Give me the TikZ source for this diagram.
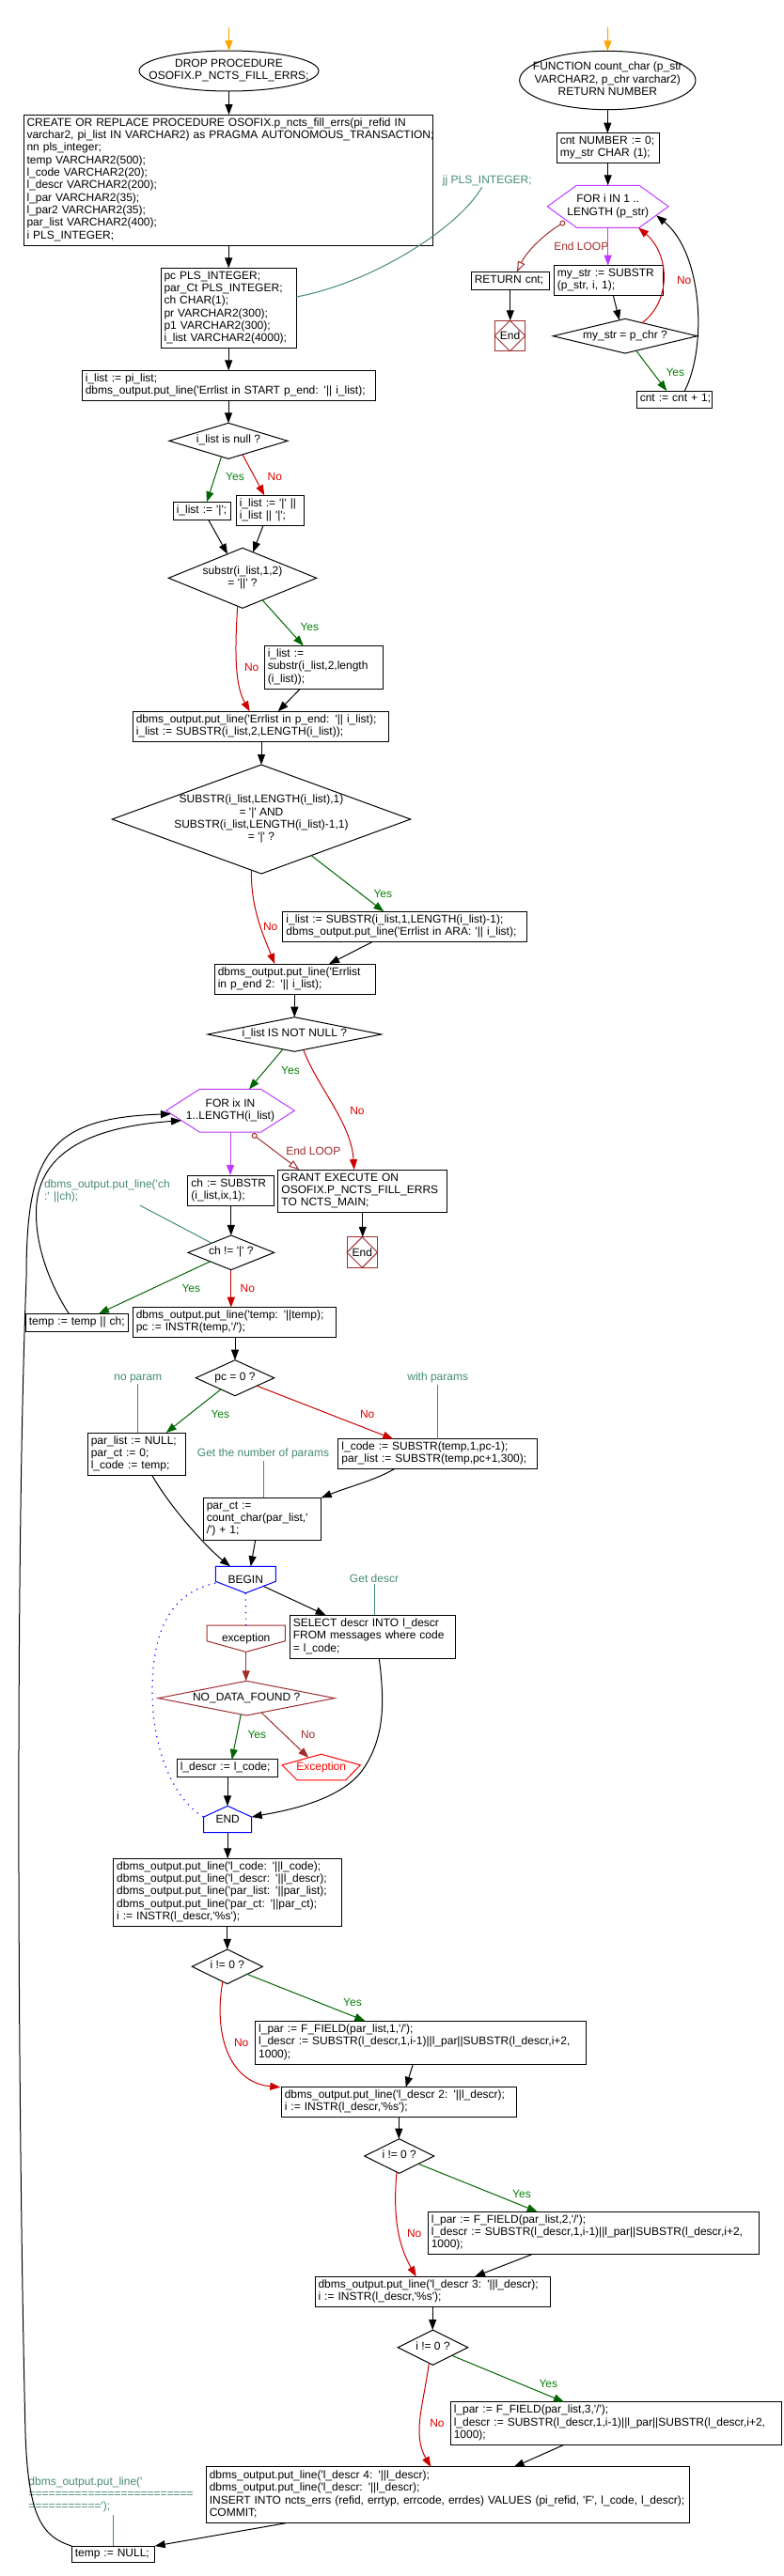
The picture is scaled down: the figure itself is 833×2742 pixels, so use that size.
\documentclass[tikz,border=0pt]{standalone}
\usepackage{fontspec}
\setmainfont{Liberation Sans}
\usetikzlibrary{arrows.meta,shapes.geometric,calc}
\definecolor{cOrange}{RGB}{255,165,0}
\definecolor{cGreen}{RGB}{0,100,0}
\definecolor{cGreenT}{RGB}{10,128,10}
\definecolor{cRed}{RGB}{204,0,0}
\definecolor{cRedT}{RGB}{220,0,0}
\definecolor{cDark}{RGB}{160,45,45}
\definecolor{cBright}{RGB}{255,0,0}
\definecolor{cTeal}{RGB}{70,140,112}
\definecolor{cPurple}{RGB}{190,60,255}
\definecolor{cBlue}{RGB}{0,0,255}
\newcommand\apo{\textquotesingle}
\newcommand\ltab[1]{\noindent\begin{tabular}{@{}l@{}}#1\end{tabular}}
\newcommand\ctab[1]{\begin{tabular}{@{}c@{}}#1\end{tabular}}
\newcommand\zc[1]{\makebox[0pt]{\smash{\raisebox{-3pt}{\ctab{#1}}}}}
\begin{document}
\begin{tikzpicture}[x=1pt,y=-1pt,line width=1pt,
 every node/.style={font=\fontsize{12}{13.3}\selectfont},
 box/.style={draw,rectangle,line width=1pt,inner xsep=3.5pt,inner ysep=0pt,outer sep=0pt,align=left},
 dia/.style={draw,diamond,line width=1pt,inner sep=0pt,outer sep=0pt},
 ell/.style={draw,ellipse,line width=1pt,inner sep=0pt,outer sep=0pt},
 holder/.style={rectangle,inner sep=0pt,outer sep=0pt},
 endbox/.style={draw=cDark,rectangle,line width=1pt,inner sep=0pt,outer sep=0pt,minimum width=32.5pt,minimum height=32.5pt},
 lab/.style={inner sep=0pt},
 ylab/.style={lab,text=cGreenT},
 nlab/.style={lab,text=cRedT},
 dlab/.style={lab,text=cDark},
 cmt/.style={inner sep=1pt,text=cTeal,align=left},
 tip/.style={-{Triangle[length=11pt,width=8pt]}},
 ar/.style={tip,draw=black},
 ya/.style={tip,draw=cGreen},
 na/.style={tip,draw=cRed},
 pa/.style={tip,draw=cPurple},
 oa/.style={tip,draw=cOrange},
 da/.style={tip,draw=cDark},
 la/.style={{Circle[open,length=6pt,width=6pt]}-{Triangle[open,length=11pt,width=8pt]},draw=cDark},
 ca/.style={draw=cTeal},
 dotl/.style={draw=cBlue,line width=1.2pt,dash pattern=on 1.2pt off 5.5pt}]
\useasboundingbox (0,0) rectangle (833,2742);
\fill[white] (0,0) rectangle (833,2742);

% ---------------- main procedure ----------------
\coordinate (s1) at (243.5,29);
\node[ell,minimum width=191pt,minimum height=43pt] (drop) at (243.5,75.5) {\zc{DROP PROCEDURE\\OSOFIX.P\_NCTS\_FILL\_ERRS;}};
\node[box,text width=428pt,minimum height=139pt] (create) at (242.5,191.5) {\ltab{CREATE OR REPLACE PROCEDURE OSOFIX.p\_ncts\_fill\_errs(pi\_refid IN\\ varchar2, pi\_list IN VARCHAR2) as PRAGMA AUTONOMOUS\_TRANSACTION;\\ nn pls\_integer;\\ temp VARCHAR2(500);\\ l\_code VARCHAR2(20);\\ l\_descr VARCHAR2(200);\\ l\_par VARCHAR2(35);\\ l\_par2 VARCHAR2(35);\\ par\_list VARCHAR2(400);\\ i PLS\_INTEGER;}};
\node[box,text width=137.3pt,minimum height=85pt] (pcbox) at (243.2,327.8) {\ltab{pc PLS\_INTEGER;\\ par\_Ct PLS\_INTEGER;\\ ch CHAR(1);\\ pr VARCHAR2(300);\\ p1 VARCHAR2(300);\\ i\_list VARCHAR2(4000);}};
\node[box,text width=305pt,minimum height=31.7pt] (ilist) at (243.3,410.2) {\ltab{i\_list := pi\_list;\\ dbms\_output.put\_line(\apo Errlist in START p\_end: \apo|| i\_list);}};
\node[dia,minimum width=126pt,minimum height=38pt] (d1) at (243,469.3) {\zc{i\_list is null ?}};
\node[box,text width=54.4pt,minimum height=19pt] (b1) at (215,543.8) {\ltab{i\_list := \apo|\apo;}};
\node[box,text width=65pt,minimum height=32pt] (b2) at (287.3,543.3) {\ltab{i\_list := \apo|\apo{} ||\\ i\_list || \apo|\apo;}};
\node[dia,minimum width=157.4pt,minimum height=64pt] (d2) at (258,615.3) {\zc{substr(i\_list,1,2)\\ = \apo||\apo{} ?}};
\node[box,text width=119pt,minimum height=46pt] (b3) at (344.3,710.3) {\ltab{i\_list :=\\ substr(i\_list,2,length\\ (i\_list));}};
\node[box,text width=265pt,minimum height=32pt] (b4) at (277.3,773.3) {\ltab{dbms\_output.put\_line(\apo Errlist in p\_end: \apo|| i\_list);\\ i\_list := SUBSTR(i\_list,2,LENGTH(i\_list));}};
\node[dia,minimum width=317.4pt,minimum height=116pt] (d3) at (278,872) {\zc{SUBSTR(i\_list,LENGTH(i\_list),1)\\ = \apo|\apo{} AND\\ SUBSTR(i\_list,LENGTH(i\_list)-1,1)\\ = \apo|\apo{} ?}};
\node[box,text width=252.7pt,minimum height=32pt] (b5) at (430.8,986.3) {\ltab{i\_list := SUBSTR(i\_list,1,LENGTH(i\_list)-1);\\ dbms\_output.put\_line(\apo Errlist in ARA: \apo|| i\_list);}};
\node[box,text width=164pt,minimum height=32.3pt] (b6) at (313.8,1042.2) {\ltab{dbms\_output.put\_line(\apo Errlist\\ in p\_end 2: \apo|| i\_list);}};
\node[dia,minimum width=184.7pt,minimum height=36.6pt] (d4) at (313.3,1101) {\zc{i\_list IS NOT NULL ?}};
\node[holder,minimum width=136.6pt,minimum height=45.7pt] (hex1) at (245,1182.2) {\ctab{FOR ix IN\\ 1..LENGTH(i\_list)}};
\draw[cPurple] (hex1.west) -- ($(hex1.north west)+(35.6,0)$) -- ($(hex1.north east)+(-35.6,0)$) -- (hex1.east) -- ($(hex1.south east)+(-35.6,0)$) -- ($(hex1.south west)+(35.6,0)$) -- cycle;
\node[box,text width=84.7pt,minimum height=32.3pt] (b7) at (245.8,1267.2) {\ltab{ch := SUBSTR\\ (i\_list,ix,1);}};
\node[box,text width=172.7pt,minimum height=45.3pt] (grant) at (385.8,1267.7) {\ltab{GRANT EXECUTE ON\\ OSOFIX.P\_NCTS\_FILL\_ERRS\\ TO NCTS\_MAIN;}};
\node[endbox] (end1) at (385.3,1333) {End};
\draw[cDark] (end1.north) -- (end1.east) -- (end1.south) -- (end1.west) -- cycle;
\node[dia,minimum width=91.7pt,minimum height=36.7pt] (d5) at (245.8,1333.3) {\zc{ch != \apo|\apo{} ?}};
\node[box,text width=102.4pt,minimum height=19pt] (b8) at (82,1407.8) {\ltab{temp := temp || ch;}};
\node[box,text width=209.4pt,minimum height=31.6pt] (b9) at (249.5,1407.5) {\ltab{dbms\_output.put\_line(\apo temp: \apo||temp);\\ pc := INSTR(temp,\apo/\apo);}};
\node[dia,minimum width=83.4pt,minimum height=38pt] (d6) at (250,1466.7) {\zc{pc = 0 ?}};
\node[box,text width=97.4pt,minimum height=45.3pt] (b10) at (145.5,1547.7) {\ltab{par\_list := NULL;\\ par\_ct := 0;\\ l\_code := temp;}};
\node[box,text width=204.7pt,minimum height=31.6pt] (b11) at (465.8,1547.5) {\ltab{l\_code := SUBSTR(temp,1,pc-1);\\ par\_list := SUBSTR(temp,pc+1,300);}};
\node[box,text width=118.4pt,minimum height=45pt] (b12) at (279,1616.8) {\ltab{par\_ct :=\\ count\_char(par\_list,\apo\\ /\apo) + 1;}};
\node[holder,minimum width=64pt,minimum height=28.4pt] (begin) at (261.3,1681.5) {BEGIN};
\draw[cBlue] (begin.north west) -- (begin.north east) -- ($(begin.north east)+(0,16)$) -- (begin.south) -- ($(begin.north west)+(0,16)$) -- cycle;
\node[box,text width=169.4pt,minimum height=46pt] (select) at (396.5,1742.3) {\ltab{SELECT descr INTO l\_descr\\ FROM messages where code\\ = l\_code;}};
\node[holder,minimum width=83.3pt,minimum height=28.3pt] (exc1) at (261.7,1744.2) {exception};
\draw[cDark] (exc1.north west) -- (exc1.north east) -- ($(exc1.north east)+(0,16.7)$) -- (exc1.south) -- ($(exc1.north west)+(0,16.7)$) -- cycle;
\node[dia,draw=cDark,minimum width=187.7pt,minimum height=36.7pt] (d7) at (262.2,1807.6) {\zc{NO\_DATA\_FOUND ?}};
\node[box,text width=100.4pt,minimum height=18.5pt] (b13) at (242,1882.2) {\ltab{l\_descr := l\_code;}};
\node[holder,minimum width=83.3pt,minimum height=27.6pt,text=cBright] (exc2) at (341.7,1881) {Exception};
\draw[cBright] (exc2.north) -- ($(exc2.north east)+(0,11.6)$) -- ($(exc2.south east)+(-15.6,0)$) -- ($(exc2.south west)+(16,0)$) -- ($(exc2.north west)+(0,11.6)$) -- cycle;
\node[holder,minimum width=51pt,minimum height=28.4pt] (endb) at (242.2,1936.5) {END};
\draw[cBlue] (endb.north) -- ($(endb.north east)+(0,11.7)$) -- (endb.south east) -- (endb.south west) -- ($(endb.north west)+(0,11.7)$) -- cycle;
\node[box,text width=235.6pt,minimum height=71.7pt] (b14) at (242,2014.2) {\ltab{dbms\_output.put\_line(\apo l\_code: \apo||l\_code);\\ dbms\_output.put\_line(\apo l\_descr: \apo||l\_descr);\\ dbms\_output.put\_line(\apo par\_list: \apo||par\_list);\\ dbms\_output.put\_line(\apo par\_ct: \apo||par\_ct);\\ i := INSTR(l\_descr,\apo\%s\apo);}};
\node[dia,minimum width=75pt,minimum height=36.7pt] (d8) at (241.8,2093.3) {\zc{i != 0 ?}};
\node[box,text width=344.6pt,minimum height=46.3pt] (b15) at (447.5,2174.2) {\ltab{l\_par := F\_FIELD(par\_list,1,\apo/\apo);\\ l\_descr := SUBSTR(l\_descr,1,i-1)||l\_par||SUBSTR(l\_descr,i+2,\\ 1000);}};
\node[box,text width=243pt,minimum height=31.6pt] (b16) at (424.3,2237.5) {\ltab{dbms\_output.put\_line(\apo l\_descr 2: \apo||l\_descr);\\ i := INSTR(l\_descr,\apo\%s\apo);}};
\node[dia,minimum width=74pt,minimum height=36.6pt] (d9) at (424.7,2295) {\zc{i != 0 ?}};
\node[box,text width=345pt,minimum height=45pt] (b17) at (631.3,2376.8) {\ltab{l\_par := F\_FIELD(par\_list,2,\apo/\apo);\\ l\_descr := SUBSTR(l\_descr,1,i-1)||l\_par||SUBSTR(l\_descr,i+2,\\ 1000);}};
\node[box,text width=243.3pt,minimum height=32pt] (b18) at (460.2,2439.3) {\ltab{dbms\_output.put\_line(\apo l\_descr 3: \apo||l\_descr);\\ i := INSTR(l\_descr,\apo\%s\apo);}};
\node[dia,minimum width=74.4pt,minimum height=37.3pt] (d10) at (460.5,2498.7) {\zc{i != 0 ?}};
\node[box,text width=345.4pt,minimum height=45.6pt] (b19) at (655.5,2579.5) {\ltab{l\_par := F\_FIELD(par\_list,3,\apo/\apo);\\ l\_descr := SUBSTR(l\_descr,1,i-1)||l\_par||SUBSTR(l\_descr,i+2,\\ 1000);}};
\node[box,text width=507pt,minimum height=59.7pt] (b20) at (476.3,2655.8) {\ltab{dbms\_output.put\_line(\apo l\_descr 4: \apo||l\_descr);\\ dbms\_output.put\_line(\apo l\_descr: \apo||l\_descr);\\ INSERT INTO ncts\_errs (refid, errtyp, errcode, errdes) VALUES (pi\_refid, \apo F\apo, l\_code, l\_descr);\\ COMMIT;}};
\node[box,text width=81.4pt,minimum height=17.3pt] (b21) at (120.5,2718.7) {\ltab{temp := NULL;}};

% ---------------- count_char ----------------
\coordinate (s2) at (646.7,29);
\node[ell,minimum width=187.3pt,minimum height=62.4pt] (fn) at (646.3,85.5) {\zc{FUNCTION count\_char (p\_str\\ VARCHAR2, p\_chr varchar2)\\ RETURN NUMBER}};
\node[box,text width=102.4pt,minimum height=31.6pt] (c1) at (647,157.5) {\ltab{cnt NUMBER := 0;\\ my\_str CHAR (1);}};
\node[holder,minimum width=128.7pt,minimum height=45pt] (hex2) at (646.7,219.8) {\ctab{FOR i IN 1 ..\\ LENGTH (p\_str)}};
\draw[cPurple] (hex2.west) -- ($(hex2.north west)+(31,0)$) -- ($(hex2.north east)+(-31,0)$) -- (hex2.east) -- ($(hex2.south east)+(-31,0)$) -- ($(hex2.south west)+(31,0)$) -- cycle;
\node[box,text width=108.7pt,minimum height=31.6pt] (c2) at (647.2,298.5) {\ltab{my\_str := SUBSTR\\ (p\_str, i, 1);}};
\node[box,text width=76pt,minimum height=19pt] (ret) at (542.8,298.8) {\ltab{RETURN cnt;}};
\node[endbox] (end2) at (542.5,357.5) {End};
\draw[cDark] (end2.north) -- (end2.east) -- (end2.south) -- (end2.west) -- cycle;
\node[dia,minimum width=153.4pt,minimum height=36.7pt] (d11) at (665,357.7) {\zc{my\_str = p\_chr ?}};
\node[box,text width=73pt,minimum height=18.3pt] (c3) at (717.3,425.2) {\ltab{cnt := cnt + 1;}};

% ---------------- comments ----------------
\node[cmt] (cm1) at (518.3,192) {jj PLS\_INTEGER;};
\node[cmt,anchor=west] (cm2) at (45.5,1268.3) {\ltab{dbms\_output.put\_line(\apo ch\\ :\apo{} ||ch);}};
\node[cmt] (cm3) at (146.7,1467.3) {no param};
\node[cmt] (cm4) at (465.7,1466.7) {with params};
\node[cmt] (cm5) at (280,1547.7) {Get the number of params};
\node[cmt] (cm6) at (398,1680) {Get descr};
\node[cmt,anchor=west] (cm7) at (29,2656) {\ltab{dbms\_output.put\_line(\apo\\ =========================\\ ===========\apo);}};

% ---------------- labels ----------------
\node[ylab] (y1) at (250,507.7) {Yes};
\node[nlab] (n1) at (292.3,507.7) {No};
\node[ylab] (y2) at (329.3,667.7) {Yes};
\node[nlab] (n2) at (267.7,710.7) {No};
\node[ylab] (y3) at (407.3,951) {Yes};
\node[nlab] (n3) at (287.7,986.7) {No};
\node[ylab] (y4) at (309,1139.3) {Yes};
\node[nlab] (n4) at (380,1182.7) {No};
\node[dlab] (el1) at (333.3,1225) {End LOOP};
\node[ylab] (y5) at (203.3,1371.7) {Yes};
\node[nlab] (n5) at (263.3,1371.7) {No};
\node[ylab] (y6) at (234.3,1505.7) {Yes};
\node[nlab] (n6) at (390.7,1505.7) {No};
\node[ylab] (y7) at (273.3,1846.7) {Yes};
\node[dlab] (n7) at (327.7,1846.7) {No};
\node[ylab] (y8) at (375,2131.7) {Yes};
\node[nlab] (n8) at (256.7,2174.3) {No};
\node[ylab] (y9) at (555,2335) {Yes};
\node[nlab] (n9) at (440.7,2377.7) {No};
\node[ylab] (y10) at (583.3,2537.7) {Yes};
\node[nlab] (n10) at (465,2579.3) {No};
\node[dlab] (el2) at (618.3,262.7) {End LOOP};
\node[ylab] (y11) at (718.3,396.7) {Yes};
\node[nlab] (n11) at (727.7,298.3) {No};

% ---------------- connectors: main ----------------
\draw[oa] (s1) -- (drop.north);
\draw[ar] (drop.south) -- (drop.south |- create.north);
\draw[ar] (pcbox.north |- create.south) -- (pcbox.north);
\draw[ar] (pcbox.south) -- (pcbox.south |- ilist.north);
\draw[ar] (d1.north |- ilist.south) -- (d1.north);
\draw[ya] (d1.-114) -- ($(b1.north)+(5,0)$);
\draw[na] (d1.-44) -- ($(b2.north)+(-6,0)$);
\draw[ar] ($(b1.south)+(6.7,0)$) -- (d2.122);
\draw[ar] ($(b2.south)+(-7.3,0)$) -- (d2.68);
\draw[ya] (d2.-48) -- ($(b3.north)+(-21.6,0)$);
\draw[na] (d2.-100) .. controls +(-4,60) and +(-14,-25) .. ($(b4.north)+(-11.6,0)$);
\draw[ar] ($(b3.south)+(-25,0)$) -- ($(b4.north)+(18.4,0)$);
\draw[ar] (d3.north |- b4.south) -- (d3.north);
\draw[ya] (d3.-36) -- ($(b5.north)+(-22.5,0)$);
\draw[na] (d3.-101) .. controls +(-1,40) and +(-12,-30) .. ($(b6.north)+(-21.5,0)$);
\draw[ar] ($(b5.south)+(-34.1,0)$) -- ($(b6.north)+(36.2,0)$);
\draw[ar] (d4.north |- b6.south) -- (d4.north);
\draw[ya] (d4.-128) -- ($(hex1.north)+(20,0)$);
\draw[na] (d4.-60) .. controls +(15,40) and +(-3,-50) .. ($(grant.north)+(-9.1,0)$);
\draw[pa] (hex1.south) -- (hex1.south |- b7.north);
\draw[la] ($(hex1.south)+(23.3,2)$) -- ($(grant.north)+(-67.5,0)$);
\draw[ar] (b7.south) -- (b7.south |- d5.north);
\draw[ar] (grant.south) -- (grant.south |- end1.north);
\draw[ya] (d5.-157) -- ($(b8.north)+(23,0)$);
\draw[na] (d5.south) -- (d5.south |- b9.north);
\draw[ar] (d6.north |- b9.south) -- (d6.north);
\draw[ya] (d6.-141) -- ($(b10.north)+(31.2,0)$);
\draw[na] (d6.-20) -- ($(b11.north)+(-47.5,0)$);
\draw[ar] ($(b11.south)+(-45.8,0)$) .. controls +(-20,12) and +(30,-12) .. (b12.north east);
\draw[ar] ($(b10.south)+(16.2,0)$) .. controls +(20,35) and +(-25,-20) .. ($(begin.north)+(-16.3,0)$);
\draw[ar] ($(b12.south)+(-7.3,0)$) -- ($(begin.north)+(5.4,0)$);
\draw[ar] ($(begin.center)+(18.7,6.8)$) -- ($(select.north)+(-49.8,0)$);
\draw[dotl] (begin.south) -- (exc1.north);
\draw[dotl] ($(begin.north west)+(0,17.7)$) .. controls (185,1695) and (162,1730) .. (162,1800) .. controls (162,1870) and (190,1920) .. ($(endb.north west)+(0,11.7)$);
\draw[da] (exc1.south) -- (exc1.south |- d7.north);
\draw[ya] (d7.-109) -- ($(b13.north)+(4.7,0)$);
\draw[da] (d7.-44) -- ($(exc2.north)+(-13.4,3.7)$);
\draw[ar] (b13.south) -- (b13.south |- endb.north);
\draw[ar] ($(select.south)+(6.8,0)$) .. controls (409,1810) and (410,1850) .. (385,1885) .. controls (360,1918) and (300,1928) .. ($(endb.north east)+(0,11.7)$);
\draw[ar] (endb.south) -- (endb.south |- b14.north);
\draw[ar] (d8.north |- b14.south) -- (d8.north);
\draw[ya] (d8.-21) -- ($(b15.north)+(-59.2,0)$);
\draw[na] (d8.-107) .. controls +(-10,55) and +(-55,-5) .. ($(b16.north west)+(-1,0)$);
\draw[ar] ($(b15.south)+(-8.2,0)$) -- ($(b16.north)+(7.4,0)$);
\draw[ar] (b16.south) -- (b16.south |- d9.north);
\draw[ya] (d9.-22) -- ($(b17.north)+(-59.6,0)$);
\draw[na] (d9.-99) .. controls +(-4,45) and +(-20,-35) .. ($(b18.north)+(-17.5,0)$);
\draw[ar] ($(b17.south)+(-64.6,0)$) -- ($(b18.north)+(44.8,0)$);
\draw[ar] (b18.south) -- (b18.south |- d10.north);
\draw[ya] (d10.-23) -- ($(b19.north)+(-55.5,0)$);
\draw[na] (d10.-104) .. controls +(-6,45) and +(-20,-35) .. ($(b20.north)+(-18,0)$);
\draw[ar] ($(b19.south)+(-55.5,0)$) -- ($(b20.north)+(70.4,0)$);
\draw[ar] ($(b20.south)+(-172,0)$) -- (b21.north east);
\draw[ar] (b21.north west) .. controls (45,2700) and (30,2680) .. (27,2590) .. controls (20,2300) and (15,1700) .. (28,1360) .. controls (28,1230) and (50,1190) .. ($(hex1.center)+(-63,3.5)$);
\draw[ar] ($(b8.north)+(-8.7,0)$) .. controls (55,1370) and (38,1330) .. (38.5,1290) .. controls (39,1230) and (90,1200) .. ($(hex1.center)+(-52,10.5)$);

% ---------------- connectors: count_char ----------------
\draw[oa] (s2) -- (fn.north);
\draw[ar] (fn.south) -- (fn.south |- c1.north);
\draw[ar] (hex2.north |- c1.south) -- (hex2.north);
\draw[pa] (hex2.south) -- (hex2.south |- c2.north);
\draw[la] ($(hex2.center)+(-45.7,16.2)$) .. controls (578,250) and (560,268) .. ($(ret.north)+(7.2,0)$);
\draw[ar] (ret.south) -- (ret.south |- end2.north);
\draw[ar] ($(c2.south)+(5.1,0)$) -- (d11.110);
\draw[na] (d11.38) .. controls (715,320) and (712,270) .. ($(hex2.south east)+(-32,0)$);
\draw[ya] (d11.-53) -- ($(c3.north)+(-8,0)$);
\draw[ar] ($(c3.north)+(11,0)$) .. controls (752,370) and (748,270) .. ($(hex2.center)+(51.6,9.5)$);

% ---------------- comment lines ----------------
\draw[ca] ($(cm1.south)+(-5.6,0)$) .. controls (490,240) and (400,300) .. ($(pcbox.east)+(0,-11.8)$);
\draw[ca] ($(cm2.south west)+(103.5,0)$) -- (d5.154);
\draw[ca] (cm3.south) -- (cm3.south |- b10.north);
\draw[ca] (cm4.south) -- (cm4.south |- b11.north);
\draw[ca] (cm5.south) -- (cm5.south |- b12.north);
\draw[ca] (cm6.south) -- (cm6.south |- select.north);
\draw[ca] (b21.north |- cm7.south) -- (b21.north);
\end{tikzpicture}
\end{document}
